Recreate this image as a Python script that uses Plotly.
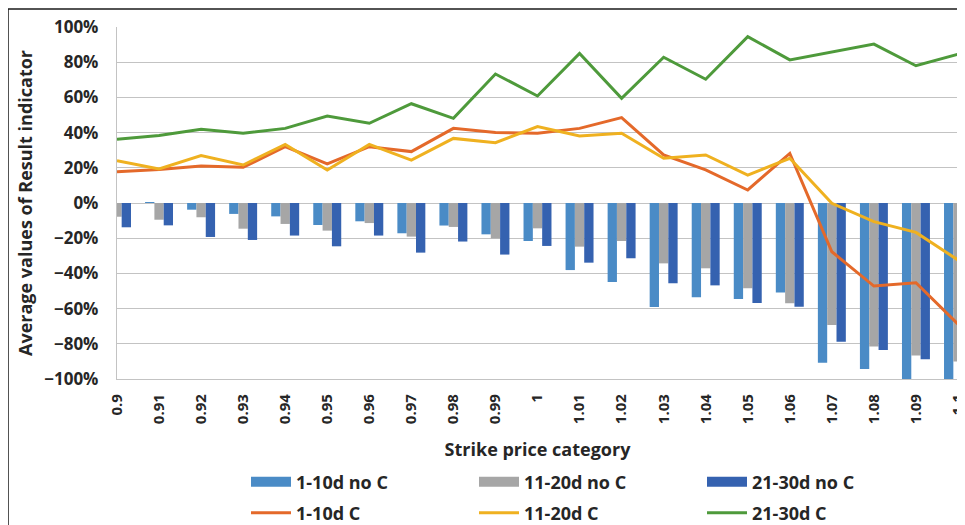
import plotly.graph_objects as go

# strike price categories (x axis)
strike = ["0.9", "0.91", "0.92", "0.93", "0.94", "0.95", "0.96", "0.97", "0.98", "0.99", "1",
          "1.01", "1.02", "1.03", "1.04", "1.05", "1.06", "1.07", "1.08", "1.09", "1.1"]

# average Result indicator, in %
no_c_1_10 = [-5.0, 0.5, -3.8, -6.2, -7.6, -12.5, -10.4, -17.2, -12.8, -17.8, -21.6,
             -38.1, -44.9, -59.1, -53.6, -54.5, -50.8, -90.7, -94.3, -100.0, -100.0]
no_c_11_20 = [-7.8, -9.5, -8.1, -14.6, -11.9, -15.7, -11.4, -19.1, -13.6, -20.1, -14.4,
              -24.8, -21.6, -34.3, -37.1, -48.5, -57.0, -69.3, -81.6, -86.7, -90.1]
no_c_21_30 = [-13.8, -12.7, -19.3, -21.0, -18.5, -24.6, -18.5, -28.2, -21.9, -29.3, -24.4,
              -33.9, -31.4, -45.6, -46.8, -56.8, -58.9, -78.8, -83.5, -88.8, -95.0]

c_1_10 = [17.8, 19.1, 21.0, 20.3, 32.0, 22.2, 32.0, 29.2, 42.4, 40.0, 39.6,
          42.4, 48.5, 27.3, 18.8, 7.4, 28.2, -27.7, -47.2, -45.3, -68.8]
c_11_20 = [24.0, 19.3, 26.9, 21.6, 33.3, 18.8, 33.3, 24.4, 36.7, 34.3, 43.4,
           38.1, 39.6, 25.4, 27.3, 15.9, 25.4, -0.2, -10.6, -16.7, -32.4]
c_21_30 = [36.2, 38.3, 41.9, 39.6, 42.4, 49.4, 45.3, 56.4, 48.1, 73.3, 60.8,
           85.0, 59.5, 82.8, 70.3, 94.5, 81.3, 85.6, 90.3, 78.0, 84.5]

FONT = "Open Sans"
TXT = "#262626"

bars = [("1-10d no C", no_c_1_10, "#4a8bc6"),
        ("11-20d no C", no_c_11_20, "#a6a6a6"),
        ("21-30d no C", no_c_21_30, "#3562b0")]
lines = [("1-10d C", c_1_10, "#e4692a"),
         ("11-20d C", c_11_20, "#efb120"),
         ("21-30d C", c_21_30, "#4e9a3b")]

fig = go.Figure()

for name, vals, col in bars:
    fig.add_trace(go.Bar(x=strike, y=vals, name=name, legendgroup=name, showlegend=False,
                         marker=dict(color=col, line=dict(width=0))))
    # wide legend swatch like the excel one
    fig.add_trace(go.Scatter(x=[None], y=[None], mode="lines", name=name, legendgroup=name,
                             line=dict(color=col, width=10), legend="legend"))

for name, vals, col in lines:
    fig.add_trace(go.Scatter(x=strike, y=vals, name=name, mode="lines",
                             line=dict(color=col, width=3), legend="legend2"))

# outer frame (left + top only)
fig.add_shape(type="line", xref="paper", yref="paper", x0=-0.1296, x1=-0.1296, y0=1.0511, y1=-0.45,
              line=dict(color="#1a1a1a", width=1.5))
fig.add_shape(type="line", xref="paper", yref="paper", x0=-0.1296, x1=1.02, y0=1.0511, y1=1.0511,
              line=dict(color="#1a1a1a", width=1.5))

leg = dict(orientation="h", xref="container", yref="container", xanchor="left", yanchor="middle",
           itemwidth=40, entrywidth=173, font=dict(family=FONT, size=18, color=TXT, weight="bold"),
           bgcolor="rgba(0,0,0,0)")

# page body adds an 8px offset, so the figure is sized/placed with that in mind
fig.update_layout(
    width=965, height=517,
    margin=dict(l=109, r=15, t=19, b=146),
    paper_bgcolor="white", plot_bgcolor="white",
    barmode="group", bargap=0.335, bargroupgap=0,
    font=dict(family=FONT, color=TXT),
    legend=dict(leg, x=238 / 965, y=0.0832),
    legend2=dict(leg, x=238 / 965, y=0.0232),
    xaxis=dict(type="category", range=[0, 20], tickangle=-90, showgrid=False, automargin=False,
               tickfont=dict(family=FONT, size=15, color=TXT, weight="bold"), ticklabelstandoff=8,
               title=dict(text="<b>Strike price category</b>", font=dict(size=18, color=TXT), standoff=20),
               showline=True, linecolor="#c3c3c3", linewidth=1.3),
    yaxis=dict(range=[-100, 100], dtick=20, ticksuffix="%", automargin=False,
               tickfont=dict(family=FONT, size=17, color=TXT, weight="bold"), ticklabelstandoff=14,
               gridcolor="#c3c3c3", gridwidth=1.3, zeroline=True, zerolinecolor="#c3c3c3",
               zerolinewidth=1.3, showline=True, linecolor="#c3c3c3", linewidth=1.3,
               title=dict(text="<b>Average values of Result indicator</b>", font=dict(size=18, color=TXT),
                          standoff=6)),
)

fig.write_html("out.html")
